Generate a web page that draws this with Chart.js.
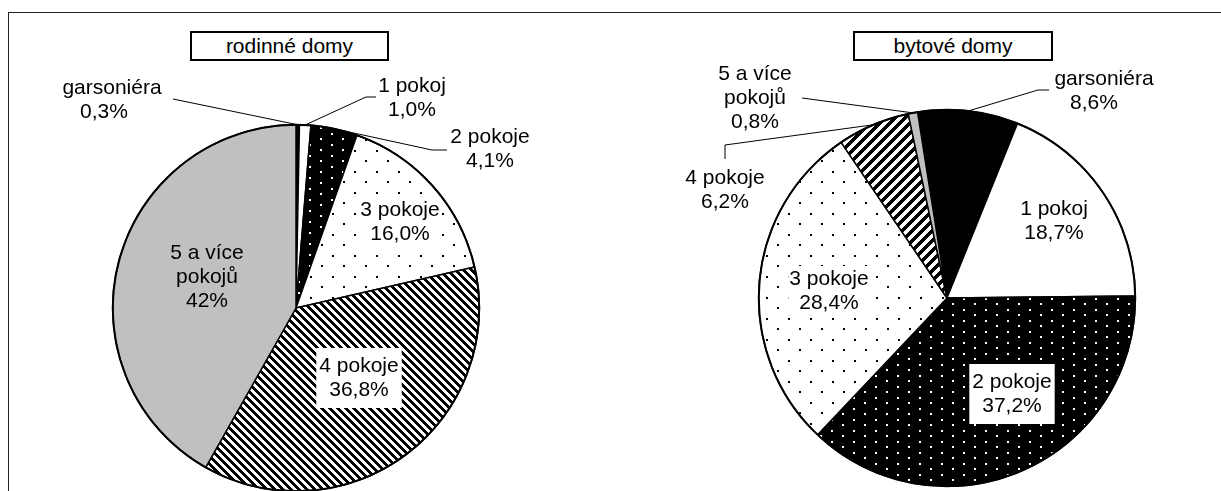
<!DOCTYPE html>
<html>
<head>
<meta charset="utf-8">
<script src="https://cdn.jsdelivr.net/npm/chart.js@4.4.1/dist/chart.umd.min.js"></script>
<style>
  html, body { margin: 0; padding: 0; background: #fff; overflow: hidden; }
  body { width: 1221px; height: 491px; position: relative; }
  #frame { position: absolute; left: 8px; top: 12px; width: 1300px; height: 600px;
           border-left: 1px solid #222; border-top: 1px solid #222; }
  canvas { position: absolute; top: 0; }
  .title { position: absolute; height: 26px; border: 2px solid #000; background: #fff;
           font: 21px "Liberation Sans", Arial, sans-serif; line-height: 26px; text-align: center; color: #000; }
</style>
</head>
<body>
<div id="frame"></div>
<canvas id="chartLeft" width="610" height="520" style="left:0"></canvas>
<canvas id="chartRight" width="611" height="520" style="left:610px"></canvas>
<div class="title" id="titleLeft" style="left:190px; top:31px; width:195px;"></div>
<div class="title" id="titleRight" style="left:853px; top:31px; width:196px;"></div>
<script>
"use strict";

// data
const categories = ['garsoniéra', '1 pokoj', '2 pokoje', '3 pokoje', '4 pokoje', '5 a více pokojů'];
const rodinneValues = [0.3, 1.0, 4.1, 16.0, 36.8, 41.8];
const rodinneLabels = ['0,3%', '1,0%', '4,1%', '16,0%', '36,8%', '42%'];
const bytoveValues = [8.6, 18.7, 37.2, 28.4, 6.2, 0.8];
const bytoveLabels = ['8,6%', '18,7%', '37,2%', '28,4%', '6,2%', '0,8%'];
const titles = ['rodinné domy', 'bytové domy'];

const FONT = '21px "Liberation Sans", Arial, sans-serif';
const LINE_H = 24;

document.getElementById('titleLeft').textContent = titles[0];
document.getElementById('titleRight').textContent = titles[1];

// category name split the way the picture wraps it
const nameLines = (name) => name === '5 a více pokojů' ? ['5 a více', 'pokojů'] : [name];

// patterns
const makeTile = (w, h, paint) => {
  const c = document.createElement('canvas');
  c.width = w; c.height = h;
  const g = c.getContext('2d');
  paint(g, w, h);
  return g.createPattern(c, 'repeat');
};

const dots = (bg, fg, w, h, pts, size = 2) => makeTile(w, h, (g) => {
  g.fillStyle = bg; g.fillRect(0, 0, w, h);
  g.fillStyle = fg;
  pts.forEach(([x, y]) => g.fillRect(x, y, size, size));
});

const stripes = (s, dir) => makeTile(s, s, (g) => {
  const img = g.createImageData(s, s);
  for (let y = 0; y < s; y++) {
    for (let x = 0; x < s; x++) {
      const k = dir > 0 ? (x + y) % s : ((x - y) % s + s) % s;
      const v = k < s / 2 ? 0 : 255;
      const p = (y * s + x) * 4;
      img.data[p] = img.data[p + 1] = img.data[p + 2] = v;
      img.data[p + 3] = 255;
    }
  }
  g.putImageData(img, 0, 0);
});

const blackWhiteDots = dots('#000', '#fff', 22, 11, [[1, 1], [12, 6]]);
const whiteBlackDots = dots('#fff', '#000', 22, 21, [[2, 3], [13, 13]]);
const hatchDown = stripes(8, -1);
const hatchUp = stripes(10, 1);

const leftColors = ['#000', '#fff', blackWhiteDots, whiteBlackDots, hatchDown, '#c0c0c0'];
const rightColors = ['#000', '#fff', blackWhiteDots, whiteBlackDots, hatchUp, '#c0c0c0'];

// label placement in page pixels (x,y = centre of first line, vx = centre of the value line)
// leader = points from the label toward the slice, box = white patch [padX, padY]
const leftLayout = [
  { x: 112, vx: 104, y: 88, leader: [[173, 99]] },
  { x: 412, y: 86, leader: [[376, 97], [366, 97]] },
  { x: 490, y: 137, leader: [[447, 150], [432, 150]] },
  { x: 400, y: 210, box: [1, 1] },
  { x: 359, y: 366, box: [3, 6] },
  { x: 207, y: 253 }
];
const rightLayout = [
  { x: 1104, vx: 1094, y: 79, leader: [[1049, 90], [1038, 90]] },
  { x: 1054, y: 209 },
  { x: 1012, y: 382, box: [3, 6] },
  { x: 829, y: 279, box: [1, 1] },
  { x: 725, y: 178, leader: [[725, 159], [725, 145]] },
  { x: 755, y: 74, leader: [[802, 98]] }
];

const sliceLabels = {
  id: 'sliceLabels',
  afterDatasetsDraw(chart, args, opts) {
    const ctx = chart.ctx;
    const meta = chart.getDatasetMeta(0);
    const dx = opts.offsetX;
    ctx.save();

    // heavier outline round the whole pie
    const first = meta.data[0].getProps(['x', 'y', 'outerRadius'], true);
    ctx.beginPath();
    ctx.arc(first.x, first.y, first.outerRadius, 0, Math.PI * 2);
    ctx.strokeStyle = '#000';
    ctx.lineWidth = 2;
    ctx.stroke();

    ctx.font = FONT;
    ctx.textAlign = 'center';
    ctx.textBaseline = 'middle';
    opts.layout.forEach((lay, i) => {
      const arc = meta.data[i];
      const { x, y, startAngle, endAngle, outerRadius } = arc.getProps(['x', 'y', 'startAngle', 'endAngle', 'outerRadius'], true);
      if (lay.leader) {
        const mid = (startAngle + endAngle) / 2;
        ctx.beginPath();
        lay.leader.forEach(([px, py], j) => j === 0 ? ctx.moveTo(px - dx, py) : ctx.lineTo(px - dx, py));
        ctx.lineTo(x + Math.cos(mid) * outerRadius, y + Math.sin(mid) * outerRadius);
        ctx.strokeStyle = '#000';
        ctx.lineWidth = 1;
        ctx.stroke();
      }
      const lines = [...nameLines(categories[i]), opts.valueLabels[i]];
      if (lay.box) {
        const [padX, padY] = lay.box;
        const w = Math.max(...lines.map(t => ctx.measureText(t).width)) + padX * 2;
        const h = lines.length * LINE_H + padY * 2;
        ctx.fillStyle = '#fff';
        ctx.fillRect(lay.x - dx - w / 2, lay.y - LINE_H / 2 - padY, w, h);
      }
      ctx.fillStyle = '#000';
      lines.forEach((t, j) => {
        const tx = (j === lines.length - 1 && lay.vx) ? lay.vx : lay.x;
        ctx.fillText(t, tx - dx, lay.y + j * LINE_H);
      });
    });
    ctx.restore();
  }
};

const showPie = (canvasId, values, colors, valueLabels, layout, offsetX, padding, rotation) => {
  new Chart(document.getElementById(canvasId), {
    type: 'pie',
    data: {
      labels: categories,
      datasets: [{
        data: values,
        backgroundColor: colors,
        borderColor: '#000',
        borderWidth: 1.5
      }]
    },
    options: {
      responsive: false,
      animation: false,
      events: [],
      rotation,
      layout: { padding },
      plugins: {
        legend: { display: false },
        tooltip: { enabled: false },
        sliceLabels: { layout, valueLabels, offsetX }
      }
    },
    plugins: [sliceLabels]
  });
};

// left pie: centre (296,308), r 184 ; right pie: centre (947,298), r 189, turned back ~9 deg
showPie('chartLeft', rodinneValues, leftColors, rodinneLabels, leftLayout, 0,
  { left: 112, right: 130, top: 124, bottom: 28 }, 0);
showPie('chartRight', bytoveValues, rightColors, bytoveLabels, rightLayout, 610,
  { left: 148, right: 85, top: 109, bottom: 33 }, -9);
</script>
</body>
</html>
